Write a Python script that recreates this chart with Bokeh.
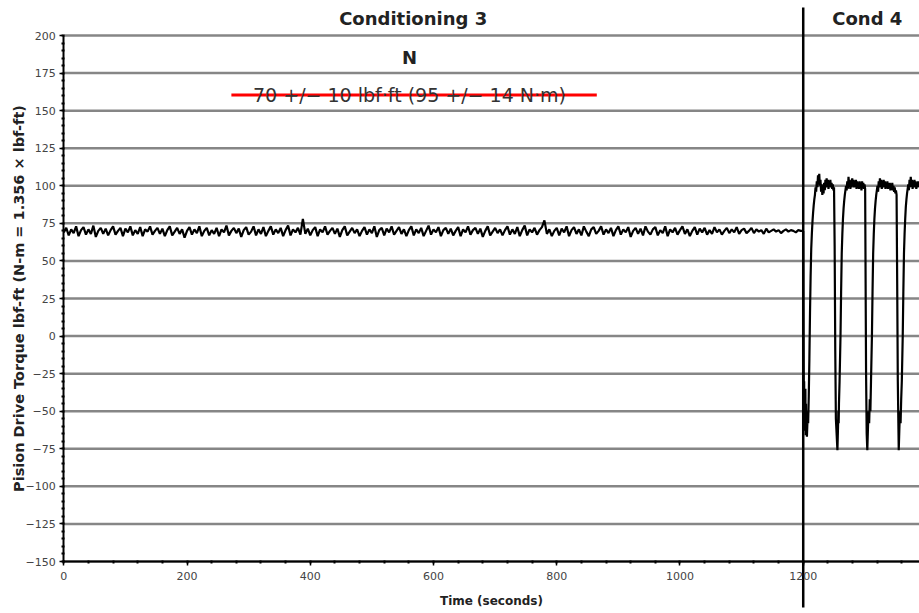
import numpy as np
from bokeh.plotting import figure
from bokeh.models import Range1d, FixedTicker, Label, CustomJSTickFormatter
from bokeh.embed import file_html
from bokeh.resources import INLINE

# ---------------- data ----------------
# Conditioning 3: steady torque, sampled every 4 s from 0 to 1196 s
cond3_step = 4
cond3_values = [
    69, 72, 67, 71, 68.5, 73, 66.5, 70.5, 72.5, 67.5, 71, 68, 73.5, 66, 70, 72, 68, 71.5, 67, 70.5,
    73, 67.5, 70, 72, 66.5, 71.5, 69, 73, 67, 70.5, 68, 72.5, 66.5, 71, 69.5, 73, 67.5, 70, 72, 68,
    71.5, 66.5, 70.5, 73, 67, 69.5, 72, 68, 71, 65.5, 70, 72.5, 67.5, 71, 68.5, 73, 66.5, 70, 72, 67,
    70.5, 68, 72, 66.5, 71, 69, 73.5, 67, 70, 72, 68.5, 71.5, 66, 70.5, 72.5, 67.5, 69.5, 73, 67, 71,
    68, 72.5, 66.5, 70, 73, 67.5, 71, 68.5, 72, 66.5, 70.5, 73.5, 67, 71, 69, 72, 67.5, 78, 68, 71.5,
    67, 70.5, 72.5, 66.5, 71, 69, 73, 67.5, 70, 72, 68, 71.5, 66, 70.5, 73, 67, 69.5, 72, 68.5, 71,
    66.5, 70, 72.5, 67.5, 71, 68.5, 73, 66, 70.5, 72, 67, 71.5, 69, 73, 67.5, 70, 72.5, 68, 71, 66.5,
    70.5, 73, 67, 71, 68.5, 72, 66.5, 70, 73.5, 67.5, 71, 69, 72.5, 66.5, 70.5, 72, 68, 71.5, 67, 70,
    72.5, 66.5, 71, 69, 73, 67.5, 70.5, 72, 68, 71.5, 66, 70, 73, 67, 69.5, 72, 68.5, 71, 67, 70.5,
    73, 67.5, 71, 68, 72.5, 66.5, 70.5, 73.5, 67, 71, 69, 72, 67.5, 70.5, 72.5, 77, 68, 71, 66.5, 70,
    72, 67, 71.5, 69, 73, 66.5, 70.5, 72.5, 68, 71, 67, 73, 69.5, 66.5, 71, 72.5, 68, 70, 73, 67.5,
    71, 68.5, 72, 66.5, 70.5, 73, 67.5, 71, 69, 72.5, 66, 70, 72, 68, 71.5, 67, 73, 69.5, 67.5, 71,
    72.5, 67, 70.5, 68.5, 73, 66.5, 71, 69, 72, 67.5, 70.5, 73, 68, 71, 66.5, 70, 72.5, 67.5, 71.5, 69,
    72, 67.5, 70.5, 68, 72.5, 69, 71, 67.5, 70, 72, 68.5, 71, 69, 72.5, 68, 70.5, 71.5, 68.5, 70, 72,
    68.5, 71, 69.5, 70.5, 68, 71.5, 69, 70, 71, 69.5, 70.5, 68.5, 70, 71, 69.5, 70.5, 70, 69, 70.5, 70,
]
cond3_times = [i * cond3_step for i in range(len(cond3_values))]

# Conditioning 4: cyclic torque (time s, torque lbf-ft)
cond4_times = [
    1200, 1200.5, 1201, 1201.5, 1202, 1202.5, 1203, 1203.5, 1204, 1204.5, 1205, 1205.5, 1206, 1207, 1208,
    1209, 1210, 1211, 1212, 1213, 1214, 1215, 1216, 1217, 1218, 1219, 1220, 1221, 1222, 1223,
    1224, 1225, 1226, 1227, 1228, 1229, 1230, 1231, 1232, 1233, 1234, 1235, 1236, 1237, 1238,
    1239, 1240, 1241, 1242, 1243, 1244, 1245, 1246, 1247, 1248, 1249, 1250, 1251, 1252, 1253,
    1255.5, 1256.5, 1257, 1257.5, 1258, 1259, 1260.5, 1261.5, 1262.5, 1263.5, 1264.5, 1265.5, 1266.5, 1267.5, 1268.5,
    1269.5, 1270.5, 1271.5, 1272.5, 1273.5, 1274.5, 1275.5, 1276.5, 1277.5, 1278.5, 1279.5, 1280.5, 1281.5, 1282.5, 1283.5,
    1284.5, 1285.5, 1286.5, 1287.5, 1288.5, 1289.5, 1290.5, 1291.5, 1292.5, 1293.5, 1294.5, 1295.5, 1296.5, 1297.5, 1298.5,
    1299.5, 1300.5, 1301.2, 1302, 1303, 1304, 1305, 1306, 1307, 1308, 1309, 1310, 1311.5, 1312.5, 1313.5,
    1314.5, 1315.5, 1316.5, 1317.5, 1318.5, 1319.5, 1320.5, 1321.5, 1322.5, 1323.5, 1324.5, 1325.5, 1326.5, 1327.5, 1328.5,
    1329.5, 1330.5, 1331.5, 1332.5, 1333.5, 1334.5, 1335.5, 1336.5, 1337.5, 1338.5, 1339.5, 1340.5, 1341.5, 1342.5, 1343.5,
    1344.5, 1345.5, 1346.5, 1347.5, 1348.5, 1349.5, 1350.5, 1351.5, 1352.5, 1353.5, 1355, 1356, 1357, 1358, 1359,
    1360, 1361.5, 1362.5, 1363.5, 1364.5, 1365.5, 1366.5, 1367.5, 1368.5, 1369.5, 1370.5, 1371.5, 1372.5, 1373.5, 1374.5,
    1375.5, 1376.5, 1377.5, 1378.5, 1379.5, 1380.5, 1381.5, 1382.5, 1383.5, 1384.5, 1385.5, 1386.5, 1387.5, 1388.5, 1389.5,
]
cond4_values = [
    70, 0, -45, -30, -60, -40, -63, -35, -66, -45, -62, -50, -67, -55, -58,
    -40, -15, 15, 40, 58, 68, 76, 82, 87, 91, 94, 99, 96, 103, 99,
    107, 101, 108, 100, 104, 96, 101, 94, 99, 95, 102, 97, 104, 99, 105,
    100, 104, 98, 103, 100, 104, 99, 102, 98, 101, 97, 99, 60, -10, -55,
    -76, -60, -50, -58, -45, -30, 0, 30, 55, 68, 78, 85, 90, 94, 97,
    100, 97, 103, 98, 106, 100, 104, 98, 103, 99, 105, 100, 104, 99, 103,
    100, 104, 98, 103, 99, 102, 98, 103, 99, 102, 97, 103, 99, 102, 98,
    101, 98, 40, -25, -65, -76, -62, -50, -58, -42, -50, -30, 0, 30, 55,
    68, 78, 85, 90, 94, 97, 100, 96, 103, 99, 105, 100, 104, 98, 103,
    99, 104, 100, 103, 98, 102, 99, 103, 98, 102, 99, 102, 97, 101, 98,
    102, 97, 100, 96, 99, 95, 97, 94, 35, -30, -76, -62, -50, -58, -42,
    -30, 0, 30, 55, 68, 78, 86, 91, 95, 98, 101, 97, 104, 99, 106,
    100, 104, 98, 103, 99, 104, 100, 103, 98, 102, 99, 103, 100, 102, 99,
]

y_ticks = [-150, -125, -100, -75, -50, -25, 0, 25, 50, 75, 100, 125, 150, 175, 200]
y_minor = list(range(-150, 201, 5))
x_ticks = [0, 200, 400, 600, 800, 1000, 1200]
x_minor = list(range(0, 1389, 40))
x_end = 1388.7

divider_time = 1200
divider_span = [-180.6, 218.6]
section_titles = ["Conditioning 3", "Cond 4"]
section_title_x = [567, 1304]
section_title_y = 211.3
spec_header = "N"
spec_text = "70 +/\u2212 10 lbf\u00b7ft (95 +/\u2212 14 N\u00b7m)"
spec_center_x = 561
spec_value = 160.5
spec_strike_x = [272, 865]
y_title = "Pision Drive Torque lbf-ft (N-m = 1.356 \u00d7 lbf-ft)"

# ---------------- figure ----------------
p = figure(width=919, height=613, output_backend="svg", toolbar_location=None,
           x_range=Range1d(-102.7, x_end), y_range=Range1d(-184.6, 223.3),
           min_border=0)
p.outline_line_color = None
p.background_fill_color = "white"
p.border_fill_color = "white"
p.xgrid.visible = False
p.ygrid.visible = False

# horizontal grid lines, only across the data area
p.segment(x0=0, x1=x_end, y0=y_ticks, y1=y_ticks, line_color="#868686", line_width=2.5)

p.xaxis.fixed_location = -150
p.xaxis.bounds = (0, x_end)
p.yaxis.fixed_location = 0
p.yaxis.bounds = (-150, 200)

p.yaxis.ticker = FixedTicker(ticks=y_ticks, minor_ticks=y_minor)
p.xaxis.ticker = FixedTicker(ticks=x_ticks, minor_ticks=x_minor)
fmt = CustomJSTickFormatter(code="return tick < 0 ? '\u2212' + (-tick) : '' + tick;")
p.yaxis.formatter = fmt
p.xaxis.formatter = fmt

for ax in (p.xaxis[0], p.yaxis[0]):
    ax.axis_line_color = "black"
    ax.axis_line_width = 2
    ax.major_tick_line_color = "black"
    ax.major_tick_line_width = 1.5
    ax.major_tick_out = 4
    ax.major_tick_in = 0
    ax.minor_tick_line_color = "black"
    ax.minor_tick_line_width = 2
    ax.minor_tick_out = 2
    ax.minor_tick_in = 1
    ax.major_label_text_font = "DejaVu Sans"
    ax.major_label_text_font_size = "11px"
    ax.major_label_text_color = "#444444"

p.yaxis.major_label_standoff = 4
p.xaxis.major_label_standoff = 6
p.xaxis.axis_label = "Time (seconds)"
p.xaxis.axis_label_text_font = "DejaVu Sans"
p.xaxis.axis_label_text_font_style = "bold"
p.xaxis.axis_label_text_font_size = "12px"
p.xaxis.axis_label_text_color = "#222222"
p.xaxis.axis_label_standoff = 11

# traces
p.line(cond3_times + [divider_time], cond3_values + [cond4_values[0]], line_color="black", line_width=2.2)
p.line(cond4_times, cond4_values, line_color="black", line_width=2.2)

# divider line extending above and below the axes
p.segment(x0=[divider_time], x1=[divider_time], y0=[divider_span[0]], y1=[divider_span[1]],
          line_color="black", line_width=2.5)

# section titles
for t, xv in zip(section_titles, section_title_x):
    p.add_layout(Label(x=xv, y=section_title_y, text=t, text_align="center", text_baseline="middle",
                       text_font="DejaVu Sans", text_font_style="bold", text_font_size="18px",
                       text_color="#222222"))

# spec header and struck-through spec
p.add_layout(Label(x=spec_center_x, y=185.5, text=spec_header, text_align="center", text_baseline="middle",
                   text_font="DejaVu Sans", text_font_style="bold", text_font_size="18px",
                   text_color="#222222"))
p.add_layout(Label(x=spec_center_x, y=spec_value, text=spec_text, text_align="center", text_baseline="middle",
                   text_font="DejaVu Sans", text_font_size="19px", text_color="#333333"))
p.line(spec_strike_x, [spec_value, spec_value], line_color="red", line_width=3)

# y axis title
p.add_layout(Label(x=-72, y=25, text=y_title,
                   angle=np.pi / 2, text_align="center", text_baseline="middle",
                   text_font="DejaVu Sans", text_font_style="bold", text_font_size="14.5px",
                   text_color="#222222"))

open("out.html", "w").write(file_html(p, INLINE))
